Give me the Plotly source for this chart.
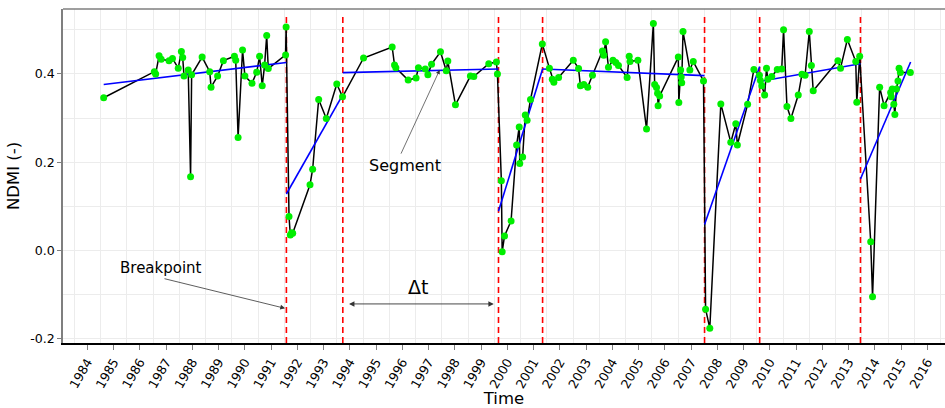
import plotly.graph_objects as go

# NDMI observations: acquisition time (decimal year) and index value
obs_time = [
    1984.62, 1986.55, 1986.60, 1986.73, 1986.81, 1987.11, 1987.24, 1987.46, 1987.58, 1987.63,
    1987.68, 1987.84, 1987.93, 1987.97, 1988.37, 1988.66, 1988.71, 1988.96, 1989.18, 1989.60,
    1989.65, 1989.74, 1989.91, 1990.00, 1990.27, 1990.45, 1990.56, 1990.66, 1990.75, 1990.83,
    1990.89, 1991.55, 1991.57,
    1991.68, 1991.73, 1991.78, 1991.82, 1992.48, 1992.58, 1992.81, 1993.10, 1993.50, 1993.72,
    1994.52, 1995.61, 1995.70, 1995.75, 1996.22, 1996.52, 1996.61, 1996.87, 1996.97, 1997.11,
    1997.45, 1997.67, 1997.73, 1998.02, 1998.59, 1998.72, 1999.29, 1999.58, 1999.62,
    1999.77, 1999.80, 1999.89, 2000.14, 2000.35, 2000.45, 2000.47, 2000.58, 2000.68, 2000.75,
    2000.88, 2001.33,
    2001.60, 2001.71, 2001.77, 2001.95, 2002.51, 2002.71, 2002.78, 2002.91, 2003.06, 2003.24,
    2003.62, 2003.67, 2003.74, 2003.85, 2004.02, 2004.13, 2004.23, 2004.56, 2004.64, 2004.67,
    2004.97, 2005.30, 2005.56, 2005.61, 2005.68, 2005.72, 2005.74, 2005.80, 2006.51, 2006.53,
    2006.60, 2006.62, 2006.64, 2006.69, 2006.95, 2007.08, 2007.47,
    2007.55, 2007.71, 2008.13, 2008.51, 2008.70, 2008.76, 2009.15, 2009.39,
    2009.60, 2009.64, 2009.69, 2009.80, 2009.87, 2009.92, 2010.07, 2010.28, 2010.45, 2010.52,
    2010.65, 2010.80, 2011.08, 2011.22, 2011.34, 2011.50, 2011.58, 2011.65, 2012.59, 2012.69,
    2012.95, 2013.27, 2013.31, 2013.42,
    2013.84, 2013.91, 2014.18, 2014.35, 2014.60, 2014.62, 2014.66, 2014.72, 2014.76, 2014.82,
    2014.88, 2014.92, 2014.97, 2015.35,
]
obs_ndmi = [
    0.346, 0.405, 0.400, 0.441, 0.433, 0.430, 0.435, 0.413, 0.451, 0.437,
    0.395, 0.409, 0.167, 0.398, 0.438, 0.405, 0.370, 0.395, 0.430, 0.440,
    0.431, 0.256, 0.454, 0.395, 0.379, 0.404, 0.440, 0.373, 0.420, 0.487,
    0.412, 0.443, 0.506,
    0.077, 0.035, 0.040, 0.039, 0.149, 0.184, 0.342, 0.299, 0.377, 0.348,
    0.436, 0.461, 0.420, 0.414, 0.386, 0.391, 0.414, 0.411, 0.398, 0.422,
    0.450, 0.407, 0.429, 0.330, 0.395, 0.394, 0.423, 0.427, 0.400,
    0.158, -0.003, 0.033, 0.067, 0.239, 0.280, 0.197, 0.212, 0.307, 0.295,
    0.342, 0.468,
    0.413, 0.388, 0.381, 0.392, 0.431, 0.412, 0.373, 0.376, 0.370, 0.397,
    0.452, 0.442, 0.473, 0.415, 0.431, 0.426, 0.419, 0.392, 0.440, 0.428,
    0.431, 0.275, 0.514, 0.376, 0.369, 0.356, 0.328, 0.350, 0.438, 0.335,
    0.409, 0.393, 0.380, 0.496, 0.409, 0.428, 0.384,
    -0.133, -0.176, 0.332, 0.245, 0.287, 0.239, 0.331, 0.410,
    0.397, 0.385, 0.373, 0.352, 0.413, 0.388, 0.394, 0.410, 0.411, 0.500,
    0.326, 0.299, 0.352, 0.399, 0.397, 0.496, 0.419, 0.362, 0.430, 0.413,
    0.478, 0.428, 0.336, 0.440,
    0.020, -0.105, 0.370, 0.328, 0.358, 0.348, 0.366, 0.331, 0.308, 0.366,
    0.384, 0.413, 0.403, 0.403,
]

# Detected breakpoints (decimal year)
break_time = [1991.58, 1993.73, 1999.66, 2001.34, 2007.51, 2009.61, 2013.45]

# Piecewise linear fit: start/end of each segment
seg_start_time = [1984.62, 1991.58, 1993.73, 1999.66, 2001.34, 2007.51, 2009.61, 2013.45]
seg_end_time = [1991.58, 1993.73, 1999.66, 2001.34, 2007.51, 2009.61, 2013.45, 2015.36]
seg_start_val = [0.376, 0.128, 0.403, 0.089, 0.411, 0.059, 0.383, 0.162]
seg_end_val = [0.426, 0.353, 0.411, 0.411, 0.396, 0.417, 0.423, 0.427]

year_ticks = list(range(1984, 2017))
year_labels = [str(y) for y in year_ticks]
ndmi_ticks = [-0.2, 0.0, 0.2, 0.4]
ndmi_labels = ["-0.2", "0.0", "0.2", "0.4"]

X_RANGE = [1983.07, 2016.67]
Y_RANGE = [-0.2095, 0.547]
VLINE_TOP = 0.533
FONT = "DejaVu Sans"

fig = go.Figure()

# breakpoint markers as dashed verticals
vx, vy = [], []
for b in break_time:
    vx += [b, b, None]
    vy += [Y_RANGE[0], VLINE_TOP, None]
fig.add_trace(go.Scatter(x=vx, y=vy, mode="lines",
                         line=dict(color="#ff0000", width=1.6, dash="6px,4px"),
                         hoverinfo="skip", showlegend=False))

# observed series
fig.add_trace(go.Scatter(x=obs_time, y=obs_ndmi, mode="lines",
                         line=dict(color="black", width=1.5),
                         showlegend=False))

# fitted segments
sx, sy = [], []
for t0, t1, v0, v1 in zip(seg_start_time, seg_end_time, seg_start_val, seg_end_val):
    sx += [t0, t1, None]
    sy += [v0, v1, None]
fig.add_trace(go.Scatter(x=sx, y=sy, mode="lines",
                         line=dict(color="#0000ff", width=1.6),
                         showlegend=False))

# observation points
fig.add_trace(go.Scatter(x=obs_time, y=obs_ndmi, mode="markers",
                         marker=dict(color="#00ee00", size=7, line=dict(width=0)),
                         showlegend=False))

arrow_col = "#333333"
annotations = [
    dict(x=1986.80, y=-0.039, text="Breakpoint", showarrow=False,
         font=dict(family=FONT, size=15, color="black")),
    dict(x=1991.53, y=-0.131, ax=1986.88, ay=-0.063, axref="x", ayref="y",
         text="", showarrow=True, arrowhead=2, arrowsize=1.2, arrowwidth=0.8,
         arrowcolor=arrow_col),
    dict(x=1996.58, y=-0.082, text="Δt", showarrow=False,
         font=dict(family=FONT, size=19, color="black")),
    dict(x=1999.48, y=-0.121, ax=1993.91, ay=-0.121, axref="x", ayref="y",
         text="", showarrow=True, arrowhead=2, startarrowhead=2, arrowside="end+start",
         arrowsize=1.2, startarrowsize=1.2, arrowwidth=0.9, arrowcolor=arrow_col),
    dict(x=1996.11, y=0.192, text="Segment", showarrow=False,
         font=dict(family=FONT, size=16, color="black")),
    dict(x=1997.42, y=0.409, ax=1995.92, ay=0.216, axref="x", ayref="y",
         text="", showarrow=True, arrowhead=2, arrowsize=1.2, arrowwidth=0.7,
         arrowcolor=arrow_col),
]

grid_col = "#ececec"
fig.update_layout(
    width=945, height=408,
    margin=dict(l=63, r=0, t=9, b=65, autoexpand=False),
    paper_bgcolor="white", plot_bgcolor="white",
    font=dict(family=FONT, size=12.6, color="black"),
    annotations=annotations,
    xaxis=dict(
        range=X_RANGE, tickmode="array", tickvals=year_ticks, ticktext=year_labels,
        tickangle=-60, ticks="outside", ticklen=5, tickcolor="#7f7f7f", tickwidth=1.2,
        showgrid=False, zeroline=False,
        showline=True, linecolor="black", linewidth=1.5,
        minor=dict(tickmode="array", tickvals=[y + 0.5 for y in range(1982, 2017)],
                   showgrid=True, gridcolor=grid_col, gridwidth=1, ticklen=0),
        title=dict(text="Time", font=dict(family=FONT, size=16.5), standoff=4),
        tickfont=dict(family=FONT, size=12.6),
    ),
    yaxis=dict(
        range=Y_RANGE, tickmode="array", tickvals=ndmi_ticks, ticktext=ndmi_labels,
        ticks="outside", ticklen=4, tickcolor="#7f7f7f", tickwidth=1.2,
        showgrid=True, gridcolor=grid_col, gridwidth=1, zeroline=False,
        showline=True, linecolor="#7f7f7f", linewidth=1.5,
        minor=dict(tickmode="array", tickvals=[-0.1, 0.1, 0.3, 0.5],
                   showgrid=True, gridcolor=grid_col, gridwidth=1, ticklen=0),
        title=dict(text="NDMI (-)", font=dict(family=FONT, size=16.5), standoff=6),
        tickfont=dict(family=FONT, size=12.6),
    ),
    shapes=[dict(type="line", xref="paper", yref="paper", x0=0, x1=1, y0=1, y1=1,
                 line=dict(color="#7f7f7f", width=1.5))],
)

fig.write_html("out.html")
